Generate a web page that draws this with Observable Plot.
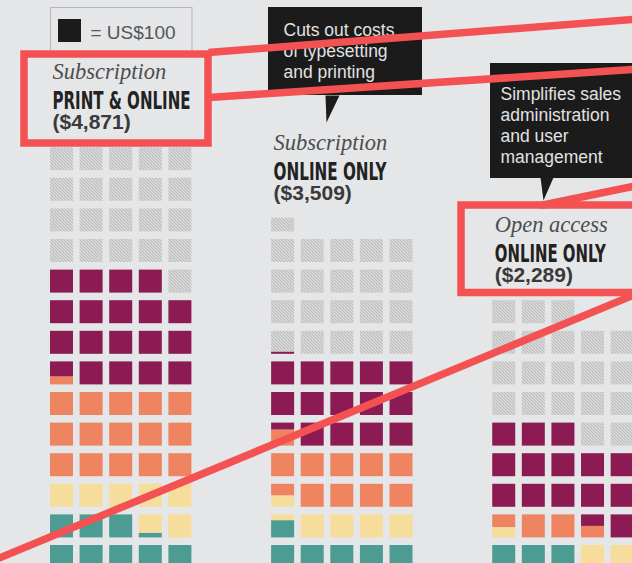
<!DOCTYPE html>
<html>
<head>
<meta charset="utf-8">
<script src="https://cdn.jsdelivr.net/npm/d3@7"></script>
<script src="https://cdn.jsdelivr.net/npm/@observablehq/plot@0.6"></script>
<style>
  html, body { margin: 0; padding: 0; background: #e5e6e8; overflow: hidden; }
  #chart svg { display: block; }
</style>
</head>
<body>
<div id="chart"></div>
<script>
// ---------------- DATA ----------------
const models     = ["Subscription print & online", "Subscription online only", "Open access online only"];
const modelType  = ["Subscription", "Subscription", "Open access"];
const modelName  = ["PRINT & ONLINE", "ONLINE ONLY", "ONLINE ONLY"];
const totalCost  = [4871, 3509, 2289];           // US$ per article

const categories = ["Editorial", "Peer review", "Production", "Sales & administration", "Surplus"];
// costs in US$, stacked bottom-up in this order (one square = US$100)
const editorial  = [820, 575, 300];    // teal
const peerReview = [680, 475, 245];    // yellow
const production = [1535, 1020, 305];  // orange
const salesAdmin = [1865, 1440, 1450]; // purple
const surplus    = [2100, 2050, 2000]; // hatched
const unitValue  = 100;
const legendLabel = "= US$100";

const calloutText = [
  "Cuts out costs\nof typesetting\nand printing",
  "Simplifies sales\nadministration\nand user\nmanagement"
];

// ---------------- LAYOUT ----------------
const W = 632, H = 563;
const COL = 29.6, ROW = 30.6, CELL = 23, PER_ROW = 5, GROUP = 7.47;
const X0 = 50, Y0 = 568;
const ux = px => (px - X0) / COL;
const uy = py => (Y0 - py) / ROW;
const cw = CELL / COL, ch = CELL / ROW;
const colors = ["#4d9c94", "#f6dd9c", "#ef8461", "#8c1b53", "url(#hatch)"];

const series = [editorial, peerReview, production, salesAdmin, surplus];
const cells = [];
models.forEach((m, g) => {
  let pos = 0;
  series.forEach((s, k) => {
    const a = pos, b = Math.round((pos + s[g] / unitValue) * 1000) / 1000;
    for (let u = Math.floor(a); u < b; u++) {
      const f0 = Math.max(a, u) - u, f1 = Math.min(b, u + 1) - u;
      if (f1 - f0 <= 0.001) continue;
      const row = Math.floor(u / PER_ROW), col = u % PER_ROW;
      const x = g * GROUP + col;
      cells.push({model: m, category: categories[k], x1: x, x2: x + cw, y1: row + f0 * ch, y2: row + f1 * ch});
    }
    pos = b;
  });
});

const idx = d3.range(models.length);
const labelBase = [78, 149, 231];            // px baseline of italic line
const condWidth = [138, 113, 111];
const labelX = i => i * GROUP + ux(52);

// callouts (px)
const calloutBox = [[268, 7, 422, 95], [490, 63, 650, 178]];
const calloutPtr = [[[325, 95], [339, 95], [326, 122]], [[540, 177], [553, 177], [543, 200]]];
const calloutTextPos = [[283, 77], [500, 162]];
const ptrPts = calloutPtr.flatMap((p, j) => p.map(([x, y]) => ({j, x: ux(x), y: uy(y)})));

// red overlay annotations (px)
const redBoxes = [[24, 54, 208, 143], [461, 205, 700, 292.5]];
const redLines = [[208, 52, 660, 16.8], [208, 97, 660, 67.2], [540, 205, 660, 180.2], [-20, 565.3, 660, 283.4]];
const RED = "#f45252";

const condFont = "'Liberation Sans Narrow', 'DejaVu Sans Condensed', 'Liberation Sans', sans-serif";

const svg = Plot.plot({
  width: W, height: H,
  marginTop: 0, marginRight: 0, marginBottom: 0, marginLeft: 0,
  style: {background: "#e5e6e8", overflow: "hidden"},
  x: {domain: [ux(0), ux(W)], range: [0, W], axis: null},
  y: {domain: [0, uy(0)], range: [Y0, 0], axis: null},
  color: {domain: categories, range: colors},
  marks: [
    // waffle squares
    Plot.rect(cells, {x1: "x1", x2: "x2", y1: "y1", y2: "y2", fill: "category"}),
    // labels
    Plot.text(idx, {x: labelX, y: i => uy(labelBase[i]), text: i => modelType[i], textAnchor: "start", lineAnchor: "bottom",
      fontFamily: "'Liberation Serif', serif", fontStyle: "italic", fontSize: 22.5, fill: "#4d4d4d"}),
    Plot.text(idx, {x: labelX, y: i => uy(labelBase[i] + 30), text: i => modelName[i], textAnchor: "start", lineAnchor: "bottom",
      fontFamily: condFont, fontWeight: "bold", fontSize: 25, fill: "#222", className: "cond"}),
    Plot.text(idx, {x: labelX, y: i => uy(labelBase[i] + 50), text: i => `($${d3.format(",")(totalCost[i])})`, textAnchor: "start", lineAnchor: "bottom",
      fontFamily: "'Liberation Sans', sans-serif", fontWeight: "bold", fontSize: 21, fill: "#3a3a3a"}),
    // legend
    Plot.rect([0], {x1: ux(50.5), x2: ux(192), y1: uy(52), y2: uy(7.5), fill: "none", stroke: "#b5b5b5", strokeWidth: 1}),
    Plot.rect([unitValue], {x1: ux(58), x2: ux(58) + cw, y1: uy(42), y2: uy(42) + ch, fill: "#1c1a1b"}),
    Plot.text([legendLabel], {x: ux(90), y: uy(38), text: d => d, textAnchor: "start", lineAnchor: "bottom",
      fontFamily: "'Liberation Sans', sans-serif", fontSize: 19, fill: "#555"}),
    // callouts
    Plot.rect(calloutBox, {x1: d => ux(d[0]), y1: d => uy(d[3]), x2: d => ux(d[2]), y2: d => uy(d[1]), fill: "#1b1b1b"}),
    Plot.line(ptrPts, {x: "x", y: "y", z: "j", fill: "#1b1b1b", stroke: "none"}),
    Plot.text(calloutText, {x: (d, i) => ux(calloutTextPos[i][0]), y: (d, i) => uy(calloutTextPos[i][1]), text: d => d,
      textAnchor: "start", lineAnchor: "bottom", lineHeight: 1.2, fontFamily: "'Liberation Sans', sans-serif", fontSize: 17.5, fill: "#e2e2e2"}),
    // red overlay
    Plot.rect(redBoxes, {x1: d => ux(d[0]), y1: d => uy(d[3]), x2: d => ux(d[2]), y2: d => uy(d[1]), fill: "none", stroke: RED, strokeWidth: 7.5}),
    Plot.link(redLines, {x1: d => ux(d[0]), y1: d => uy(d[1]), x2: d => ux(d[2]), y2: d => uy(d[3]), stroke: RED, strokeWidth: 7.5})
  ]
});

d3.select(svg).insert("defs", ":first-child").html(
  `<pattern id="hatch" patternUnits="userSpaceOnUse" width="3.2" height="3.2">
     <rect width="3.2" height="3.2" fill="#e0e0e0"/>
     <path d="M-0.8,-0.8L4,4M-0.8,2.4L0.8,4M2.4,-0.8L4,0.8" stroke="#b0b0b0" stroke-width="0.9"/>
   </pattern>`);

document.getElementById("chart").appendChild(svg);
d3.select(svg).selectAll("g.cond text").each(function (d, i) {
  this.setAttribute("textLength", condWidth[i]);
  this.setAttribute("lengthAdjust", "spacingAndGlyphs");
});
</script>
</body>
</html>
